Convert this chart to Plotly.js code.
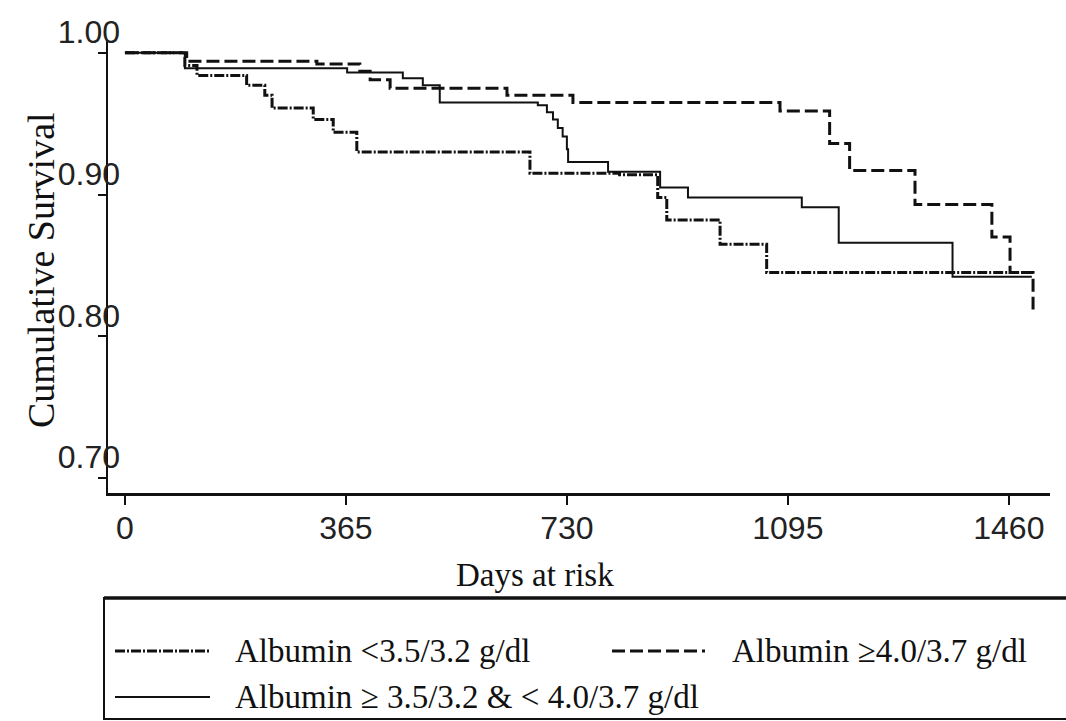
<!DOCTYPE html>
<html>
<head>
<meta charset="utf-8">
<script src="https://cdn.plot.ly/plotly-3.0.1.min.js"></script>
<style>html,body{margin:0;padding:0;background:#fff;}#chart{width:1066px;height:721px;}</style>
</head>
<body>
<div id="chart"></div>
<script>
// ---- data (Kaplan-Meier steps) ----
const lowName = "Albumin <3.5/3.2 g/dl";
const lowDays = [0, 99, 119, 201, 231, 243, 311, 344, 383, 669, 817, 880, 895, 983, 1060, 1500];
const lowSurv = [1.000, 0.991, 0.984, 0.977, 0.970, 0.961, 0.953, 0.944, 0.930, 0.915, 0.914, 0.898, 0.882, 0.865, 0.845, 0.845];

const highName = "Albumin ≥4.0/3.7 g/dl";
const highDays = [0, 102, 317, 388, 405, 438, 631, 740, 1082, 1164, 1197, 1305, 1432, 1462, 1500];
const highSurv = [1.000, 0.994, 0.992, 0.987, 0.981, 0.975, 0.970, 0.965, 0.959, 0.936, 0.917, 0.893, 0.870, 0.845, 0.819];

const midName = "Albumin ≥ 3.5/3.2 & < 4.0/3.7 g/dl";
const midDays = [0, 99, 367, 459, 492, 520, 682, 697, 707, 715, 723, 730, 732, 798, 884, 930, 1118, 1179, 1367, 1498];
const midSurv = [1.000, 0.989, 0.986, 0.982, 0.977, 0.965, 0.963, 0.958, 0.953, 0.947, 0.941, 0.932, 0.923, 0.916, 0.905, 0.898, 0.891, 0.866, 0.842, 0.842];

const xTicks = [0, 365, 730, 1095, 1460];
const yTicks = [0.70, 0.80, 0.90, 1.00];
const yTickText = ["0.70", "0.80", "0.90", "1.00"];
const xTitle = "Days at risk";
const yTitle = "Cumulative Survival";

// ---- styles ----
const lowDash = "10px,2px,2px,2px";
const highDash = "13px,5px";

// layout geometry (pixels)
const W = 1066, H = 721;
const M = {l: 108, r: 16, t: 40, b: 228};
const plotW = W - M.l - M.r, plotH = H - M.t - M.b;
const px = X => (X - M.l) / plotW;
const py = Y => (H - M.b - Y) / plotH;

const traces = [
  {x: lowDays, y: lowSurv, name: lowName, mode: 'lines', line: {shape: 'hv', color: '#111', width: 3, dash: lowDash}},
  {x: highDays, y: highSurv, name: highName, mode: 'lines', line: {shape: 'hv', color: '#111', width: 3, dash: highDash}},
  {x: midDays, y: midSurv, name: midName, mode: 'lines', line: {shape: 'hv', color: '#111', width: 2}}
];

const serif = "Liberation Serif, Times New Roman, serif";
const sans = "Liberation Sans, Arial, sans-serif";

// manual legend (long sample lines as in the reference)
const legendItems = [
  {name: lowName, sx: 115, ex: 210, tx: 233, y: 651, w: 3, d: lowDash},
  {name: highName, sx: 612, ex: 705, tx: 730, y: 651, w: 3, d: highDash},
  {name: midName, sx: 115, ex: 210, tx: 233, y: 697, w: 2, d: 'solid'}
];

const shapes = [
  {type: 'rect', xref: 'paper', yref: 'paper', x0: px(104), x1: px(1080), y0: py(598), y1: py(719),
   line: {color: '#111', width: 2}, fillcolor: 'rgba(0,0,0,0)'},
  {type: 'line', xref: 'paper', yref: 'paper', x0: px(104), x1: px(1080), y0: py(598), y1: py(598),
   line: {color: '#111', width: 3.5}}
];
const annotations = [
  {xref: 'paper', yref: 'paper', x: px(535), y: py(575), text: xTitle, showarrow: false,
   xanchor: 'center', yanchor: 'middle', font: {family: serif, size: 33, color: '#111'}},
  {xref: 'paper', yref: 'paper', x: px(41), y: py(270), text: yTitle, showarrow: false, textangle: -90,
   xanchor: 'center', yanchor: 'middle', font: {family: serif, size: 38, color: '#111'}}
];
legendItems.forEach(it => {
  shapes.push({type: 'line', xref: 'paper', yref: 'paper', x0: px(it.sx), x1: px(it.ex), y0: py(it.y), y1: py(it.y),
    line: {color: '#111', width: it.w, dash: it.d}});
  annotations.push({xref: 'paper', yref: 'paper', x: px(it.tx), y: py(it.y), text: it.name, showarrow: false,
    xanchor: 'left', yanchor: 'middle', font: {family: serif, size: 33, color: '#111'}});
});

const layout = {
  width: W, height: H,
  margin: M,
  paper_bgcolor: '#fff', plot_bgcolor: '#fff',
  showlegend: false,
  xaxis: {
    range: [-28, 1528], tickvals: xTicks, ticktext: xTicks.map(String),
    showgrid: false, zeroline: false, showline: true, linecolor: '#111', linewidth: 3,
    ticks: 'outside', ticklen: 9, tickwidth: 2, tickcolor: '#111',
    tickfont: {family: sans, size: 32, color: '#222'}, ticklabelstandoff: -4
  },
  yaxis: {
    range: [0.6895, 1.009], tickvals: yTicks, ticktext: yTickText,
    showgrid: false, zeroline: false, showline: true, linecolor: '#111', linewidth: 2.5,
    ticks: 'outside', ticklen: 8, tickwidth: 2, tickcolor: '#111',
    tickfont: {family: sans, size: 32, color: '#222'},
    ticklabelstandoff: -29, ticklabelshift: -21
  },
  shapes: shapes,
  annotations: annotations
};

Plotly.newPlot('chart', traces, layout, {displayModeBar: false, staticPlot: true});
</script>
</body>
</html>
